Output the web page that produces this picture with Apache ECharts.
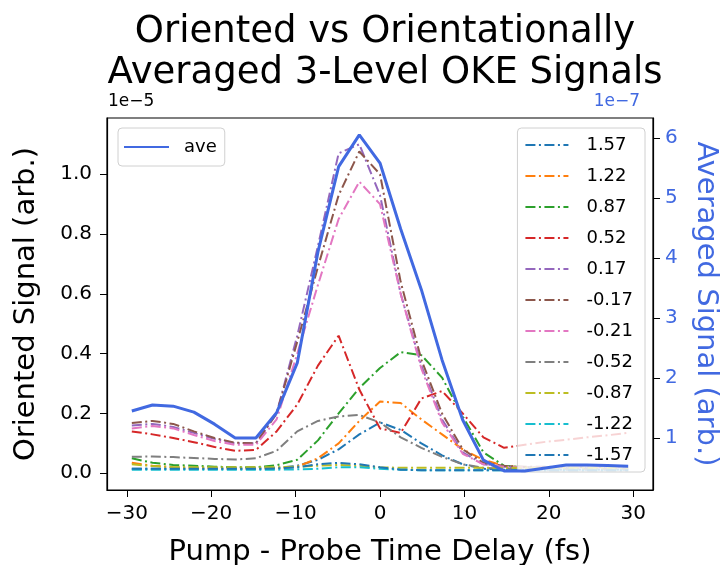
<!DOCTYPE html>
<html>
<head>
<meta charset="utf-8">
<title>Oriented vs Orientationally Averaged 3-Level OKE Signals</title>
<script src="https://cdn.jsdelivr.net/npm/echarts@6/dist/echarts.min.js"></script>
<style>
  html, body { margin: 0; padding: 0; background: #fff; }
  #chart { width: 720px; height: 565px; }
</style>
</head>
<body>
<div id="chart"></div>
<script>
// pump - probe delay (fs)
var timeFs = [-29.4, -26.95, -24.5, -22.05, -19.6, -17.15, -14.7, -12.25, -9.8, -7.35, -4.9, -2.45,
  0, 2.45, 4.9, 7.35, 9.8, 12.25, 14.7, 17.15, 19.6, 22.05, 24.5, 26.95, 29.4];

// oriented signals, units of 1e-5
var sig157 = [0.015, 0.015, 0.015, 0.015, 0.015, 0.015, 0.015, 0.018, 0.025, 0.045, 0.08, 0.13,
  0.17, 0.145, 0.10, 0.06, 0.03, 0.015, 0.012, 0.012, 0.012, 0.012, 0.012, 0.012, 0.012];
var sig122 = [0.035, 0.025, 0.02, 0.018, 0.017, 0.017, 0.017, 0.018, 0.022, 0.05, 0.10, 0.175,
  0.24, 0.235, 0.18, 0.13, 0.08, 0.045, 0.025, 0.018, 0.016, 0.016, 0.016, 0.016, 0.016];
var sig087 = [0.05, 0.035, 0.028, 0.025, 0.022, 0.02, 0.02, 0.027, 0.045, 0.11, 0.2, 0.285,
  0.352, 0.405, 0.395, 0.32, 0.19, 0.07, 0.025, 0.02, 0.02, 0.02, 0.02, 0.02, 0.02];
var sig052 = [0.14, 0.13, 0.118, 0.104, 0.088, 0.075, 0.078, 0.14, 0.23, 0.36, 0.46, 0.28,
  0.15, 0.135, 0.25, 0.275, 0.2, 0.12, 0.085, 0.095, 0.105, 0.112, 0.12, 0.127, 0.135];
var sig017 = [0.16, 0.165, 0.155, 0.135, 0.115, 0.1, 0.1, 0.2, 0.46, 0.76, 1.07, 1.1,
  0.93, 0.6, 0.36, 0.18, 0.07, 0.03, 0.022, 0.02, 0.02, 0.02, 0.02, 0.02, 0.02];
var sigM017 = [0.168, 0.175, 0.165, 0.14, 0.118, 0.102, 0.1, 0.2, 0.44, 0.69, 0.93, 1.076,
  1.0, 0.64, 0.38, 0.2, 0.08, 0.035, 0.025, 0.022, 0.022, 0.022, 0.022, 0.022, 0.022];
var sigM021 = [0.15, 0.158, 0.15, 0.128, 0.108, 0.095, 0.095, 0.18, 0.4, 0.63, 0.85, 0.975,
  0.9, 0.6, 0.35, 0.17, 0.065, 0.03, 0.022, 0.02, 0.02, 0.02, 0.02, 0.02, 0.02];
var sigM052 = [0.055, 0.056, 0.054, 0.051, 0.048, 0.046, 0.05, 0.075, 0.14, 0.175, 0.19, 0.195,
  0.17, 0.12, 0.085, 0.055, 0.03, 0.018, 0.015, 0.015, 0.015, 0.015, 0.015, 0.015, 0.015];
var sigM087 = [0.03, 0.024, 0.02, 0.02, 0.02, 0.02, 0.02, 0.02, 0.022, 0.025, 0.028, 0.025,
  0.02, 0.018, 0.018, 0.018, 0.018, 0.018, 0.018, 0.018, 0.018, 0.018, 0.018, 0.018, 0.018];
var sigM122 = [0.012, 0.012, 0.012, 0.012, 0.012, 0.012, 0.012, 0.012, 0.013, 0.015, 0.02, 0.02,
  0.015, 0.012, 0.01, 0.01, 0.01, 0.01, 0.01, 0.01, 0.01, 0.01, 0.01, 0.01, 0.01];
var sigM157 = [0.015, 0.015, 0.015, 0.015, 0.015, 0.015, 0.015, 0.016, 0.02, 0.03, 0.035, 0.03,
  0.02, 0.012, 0.01, 0.01, 0.01, 0.01, 0.01, 0.01, 0.01, 0.01, 0.01, 0.01, 0.01];

// orientationally averaged signal, units of 1e-7
var aveSignal = [1.45, 1.55, 1.53, 1.43, 1.23, 1.0, 1.0, 1.42, 2.25, 4.1, 5.52, 6.05,
  5.58, 4.48, 3.47, 2.3, 1.3, 0.63, 0.45, 0.45, 0.5, 0.55, 0.55, 0.54, 0.53];

var angleLabels = ['1.57', '1.22', '0.87', '0.52', '0.17', '-0.17', '-0.21', '-0.52', '-0.87', '-1.22', '-1.57'];
var orientedSets = [sig157, sig122, sig087, sig052, sig017, sigM017, sigM021, sigM052, sigM087, sigM122, sigM157];

var xTicks = [-30, -20, -10, 0, 10, 20, 30];
var leftTicks = [0, 0.2, 0.4, 0.6, 0.8, 1.0];
var rightTicks = [1, 2, 3, 4, 5, 6];

var colors = ['#1f77b4', '#ff7f0e', '#2ca02c', '#d62728', '#9467bd', '#8c564b',
  '#e377c2', '#7f7f7f', '#bcbd22', '#17becf', '#1f77b4'];
var FONT = 'DejaVu Sans';

function pairs(ys) {
  return timeFs.map(function (t, i) { return [t, ys[i]]; });
}
function minus(s) { return String(s).replace('-', '\u2212'); }

var chart = echarts.init(document.getElementById('chart'), null, { renderer: 'canvas' });

var series = orientedSets.map(function (ys, i) {
  return {
    name: angleLabels[i],
    type: 'line',
    xAxisIndex: 0,
    yAxisIndex: 0,
    data: pairs(ys),
    showSymbol: false,
    symbol: 'none',
    lineStyle: { color: colors[i], width: 2, type: [10, 3.5, 2, 3.5] },
    itemStyle: { color: colors[i] },
    z: 2
  };
});
series.push({
  name: 'ave',
  type: 'line',
  xAxisIndex: 0,
  yAxisIndex: 1,
  data: pairs(aveSignal),
  showSymbol: false,
  symbol: 'none',
  lineStyle: { color: '#4169e1', width: 3 },
  itemStyle: { color: '#4169e1' },
  z: 6
});

var option = {
  animation: false,
  backgroundColor: '#fff',
  title: {
    text: 'Oriented vs Orientationally\nAveraged 3-Level OKE Signals',
    left: 380,
    top: 7,
    textAlign: 'center',
    textStyle: { fontFamily: FONT, fontSize: 37, fontWeight: 'normal', color: '#000', lineHeight: 41 }
  },
  grid: {
    left: 107, right: 67, top: 118, bottom: 75,
    outerBoundsMode: 'none',
    containLabel: false,
    show: true, borderColor: '#000', borderWidth: 1.2, backgroundColor: 'transparent'
  },
  legend: [
    {
      data: ['ave'],
      left: 118, top: 128,
      padding: [10, 8, 10, 5],
      itemWidth: 45, itemHeight: 14,
      itemStyle: { opacity: 0 },
      backgroundColor: 'rgba(255,255,255,0.8)',
      borderColor: '#d0d0d0', borderWidth: 1, borderRadius: 4,
      textStyle: { fontFamily: FONT, fontSize: 18, color: '#000', padding: [0, 0, 0, 10] }
    },
    {
      data: angleLabels,
      orient: 'vertical',
      right: 75, top: 128,
      padding: [8, 12, 8, 7],
      itemGap: 13,
      itemWidth: 43, itemHeight: 18,
      itemStyle: { opacity: 0 },
      backgroundColor: 'rgba(255,255,255,0.8)',
      borderColor: '#d0d0d0', borderWidth: 1, borderRadius: 4,
      textStyle: { fontFamily: FONT, fontSize: 18, color: '#000', padding: [0, 0, 0, 13] }
    }
  ],
  xAxis: {
    type: 'value',
    min: -32.34, max: 32.34,
    name: 'Pump - Probe Time Delay (fs)',
    nameLocation: 'middle',
    nameGap: 48,
    nameTextStyle: { fontFamily: FONT, fontSize: 29, color: '#000' },
    splitLine: { show: false },
    axisLine: { show: true, onZero: false, lineStyle: { color: '#000', width: 1.2 } },
    axisTick: { show: true, inside: false, length: 7, customValues: xTicks, lineStyle: { color: '#000' } },
    axisLabel: {
      customValues: xTicks, fontFamily: FONT, fontSize: 20, color: '#000', margin: 14,
      formatter: function (v) { return minus(v); }
    }
  },
  yAxis: [
    {
      type: 'value',
      position: 'left',
      min: -0.056, max: 1.188,
      name: 'Oriented Signal (arb.)',
      nameLocation: 'middle',
      nameRotate: 90,
      nameGap: 66,
      nameTextStyle: { fontFamily: FONT, fontSize: 29, color: '#000' },
      splitLine: { show: false },
      axisLine: { show: true, onZero: false, lineStyle: { color: '#000', width: 1.2 } },
      axisTick: { show: true, inside: false, length: 7, customValues: leftTicks, lineStyle: { color: '#000' } },
      axisLabel: {
        customValues: leftTicks, fontFamily: FONT, fontSize: 20, color: '#000', margin: 15,
        formatter: function (v) { return v.toFixed(1); }
      }
    },
    {
      type: 'value',
      position: 'right',
      min: 0.133, max: 6.33,
      name: 'Averaged Signal (arb.)',
      nameLocation: 'middle',
      nameRotate: -90,
      nameGap: 38,
      nameTextStyle: { fontFamily: FONT, fontSize: 29, color: '#4169e1' },
      splitLine: { show: false },
      axisLine: { show: true, onZero: false, lineStyle: { color: '#000', width: 1.2 } },
      axisTick: { show: true, inside: false, length: 7, customValues: rightTicks, lineStyle: { color: '#000' } },
      axisLabel: {
        customValues: rightTicks, fontFamily: FONT, fontSize: 20, color: '#4169e1', margin: 12,
        formatter: function (v) { return String(v); }
      }
    }
  ],
  graphic: [
    {
      type: 'text', left: 108, top: 93,
      style: { text: '1e\u22125', fontFamily: FONT, fontSize: 17, fill: '#000' }
    },
    {
      type: 'text', right: 80, top: 93,
      style: { text: '1e\u22127', fontFamily: FONT, fontSize: 17, fill: '#4169e1' }
    }
  ],
  series: series
};

chart.setOption(option);
</script>
</body>
</html>
